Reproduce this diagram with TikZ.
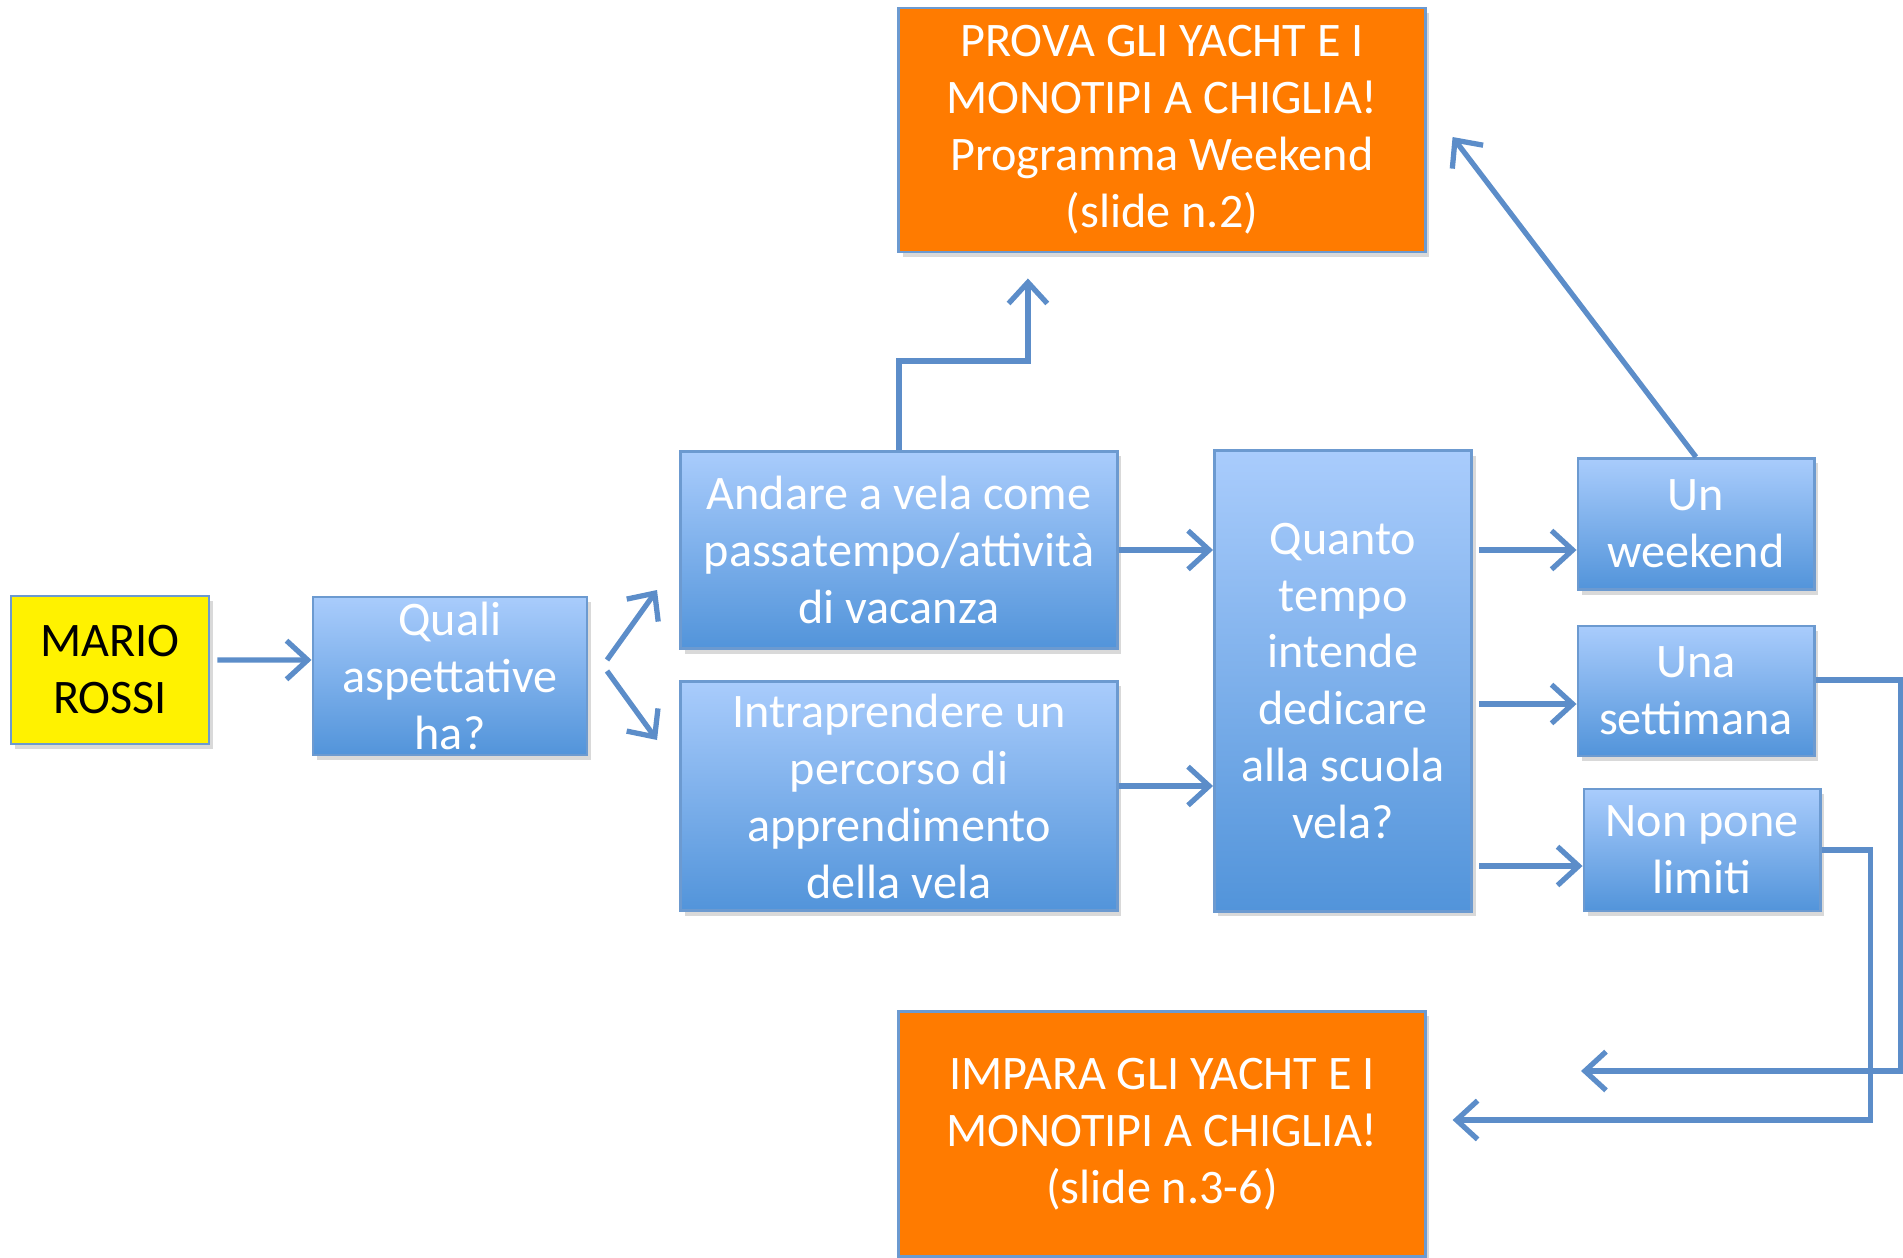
\documentclass[tikz,border=0pt]{standalone}
\usepackage{fontspec}
\setmainfont{Carlito}
\usetikzlibrary{arrows.meta, positioning, shadows, calc}
\definecolor{boxtop}{HTML}{A9CCFC}
\definecolor{boxbottom}{HTML}{5294DA}
\definecolor{boxline}{HTML}{6C9AD0}
\definecolor{linkblue}{HTML}{5C8DC9}
\definecolor{goalorange}{HTML}{FF7B00}
\tikzset{
  card/.style={rectangle, draw=boxline, line width=0.8pt, align=center,
               inner sep=0pt, font=\fontsize{13.7}{16.2}\selectfont,
               drop shadow={opacity=0.3, shadow xshift=0.04cm, shadow yshift=-0.05cm}},
  person/.style={card, fill=yellow, text=black},
  question/.style={card, top color=boxtop, bottom color=boxbottom, text=white},
  goal/.style={card, fill=goalorange, text=white},
  link/.style={-{Straight Barb[length=6pt, width=11pt]}, line width=1.5pt, draw=linkblue},
}

\begin{document}
\begin{tikzpicture}[x=0.01cm, y=-0.01cm]
  \useasboundingbox (0,0) rectangle (1903,1258);

  %% ── START AND FIRST QUESTION ─────────────────────────────────────────────
  \node[person,   minimum width=1.98cm, minimum height=1.48cm] (mario)  at (110,670)  {MARIO\\ROSSI};
  \node[question, minimum width=2.74cm, minimum height=1.58cm] (quali)  at (450,676)  {Quali\\aspettative\\ha?};

  %% ── EXPECTATIONS ─────────────────────────────────────────────────────────
  \node[question, minimum width=4.36cm, minimum height=1.97cm] (andare) at (899,550)  {Andare a vela come\\passatempo/attività\\di vacanza};
  \node[question, minimum width=4.36cm, minimum height=2.29cm] (intra)  at (899,796)  {Intraprendere un\\percorso di\\apprendimento\\della vela};

  %% ── TIME QUESTION AND ANSWERS ────────────────────────────────────────────
  \node[question, minimum width=2.57cm, minimum height=4.60cm] (quanto) at (1343,681) {Quanto\\tempo\\intende\\dedicare\\alla scuola\\vela?};
  \node[question, minimum width=2.36cm, minimum height=1.31cm] (wk)     at (1696,524) {Un\\weekend};
  \node[question, minimum width=2.36cm, minimum height=1.30cm] (sett)   at (1696,691) {Una\\settimana};
  \node[question, minimum width=2.36cm, minimum height=1.22cm] (nonpone) at (1702,850) {Non pone\\limiti};

  %% ── PROGRAMMES ───────────────────────────────────────────────────────────
  \node[goal, minimum width=5.26cm, minimum height=2.44cm] (prova)  at (1162,130)  {PROVA GLI YACHT E I\\MONOTIPI A CHIGLIA!\\Programma Weekend\\(slide n.2)};
  \node[goal, minimum width=5.26cm, minimum height=2.45cm] (impara) at (1162,1134) {IMPARA GLI YACHT E I\\MONOTIPI A CHIGLIA!\\(slide n.3-6)};

  %% free arrow ends
  \coordinate (fork)     at (607,665);
  \coordinate (forkup)   at (657,590);
  \coordinate (forkdown) at (657,740);
  \coordinate (settend)  at (1581,1071);

  %% ── ARROWS ───────────────────────────────────────────────────────────────
  \draw[link, shorten <=0.07cm] ($(mario.east)+(0,0.1cm)$) -- ($(quali.west)+(0,0.16cm)$);
  \draw[link] ($(fork)+(0,0.05cm)$) -- (forkup);
  \draw[link] ($(fork)+(0,-0.06cm)$) -- (forkdown);

  \draw[link] (andare.east) -- (andare.east -| quanto.west);
  \draw[link] ($(intra.east)+(0,0.1cm)$) -- ($(intra.east -| quanto.west)+(0,0.1cm)$);

  \draw[link, shorten <=0.06cm] (quanto.east |- andare.east) -- (wk.west |- andare.east);
  \draw[link, shorten <=0.06cm] ($(quanto.east |- sett.west)+(0,-0.13cm)$) -- ($(sett.west)+(0,-0.13cm)$);
  \draw[link, shorten <=0.06cm] ($(quanto.east |- nonpone.west)+(0,-0.16cm)$) -- ($(nonpone.west)+(0,-0.16cm)$);

  \draw[link] (andare.north) -- ++(0,0.89cm) -| ($(prova.south)+(-1.34cm,-0.25cm)$);
  \draw[link] (wk.north) -- ($(prova.east)+(0.26cm,-0.07cm)$);

  \draw[link] ($(sett.east)+(0,0.11cm)$) -- ++(0.85cm,0) |- (settend);
  \draw[link] (nonpone.east) -- ++(0.49cm,0) |- ($(impara.east)+(0.26cm,0.14cm)$);

\end{tikzpicture}
\end{document}
